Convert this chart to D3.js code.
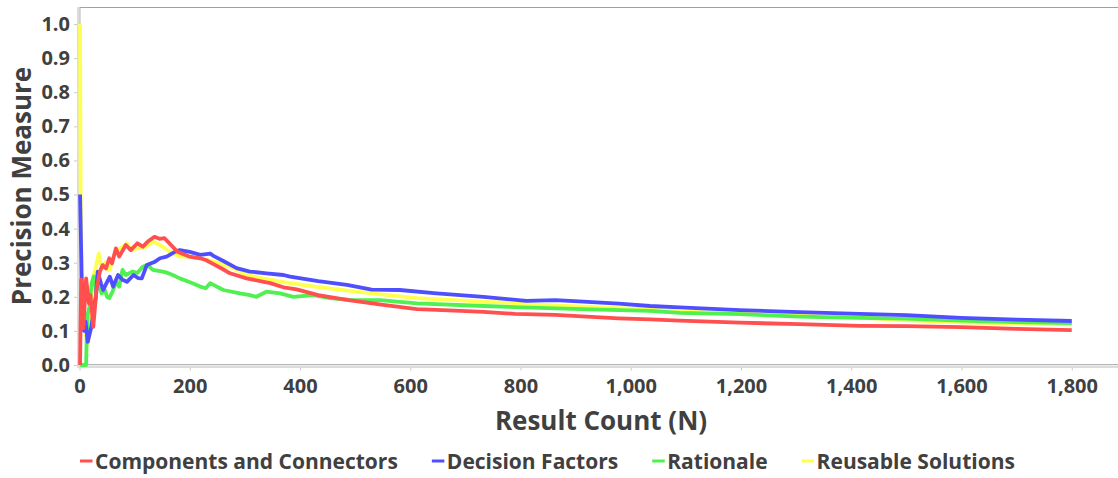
<!DOCTYPE html>
<html><head><meta charset="utf-8">
<script src="https://cdn.jsdelivr.net/npm/d3@7"></script>
<style>
html,body{margin:0;padding:0;background:#fff;}
svg{display:block;}
text{font-family:"Open Sans",sans-serif;font-weight:700;fill:#404040;}
</style></head>
<body>
<svg id="chart" width="1118" height="478"></svg>
<script>
// ---- data ----
const seriesNames = ["Components and Connectors","Decision Factors","Rationale","Reusable Solutions"];
const seriesColors = ["#ff4f4f","#4f4fff","#4ff04f","#ffff4f"];
const xTicks = [0,200,400,600,800,1000,1200,1400,1600,1800];
const yTicks = [0,0.1,0.2,0.3,0.4,0.5,0.6,0.7,0.8,0.9,1.0];

const componentsConnectors = [[1,0],[3,0.25],[7,0.108],[12,0.254],[17,0.181],[20,0.205],[25,0.112],[31,0.225],[37,0.274],[42,0.293],[48,0.283],[54,0.313],[59,0.298],[66,0.342],[72,0.318],[84,0.352],[93,0.337],[105,0.357],[115,0.347],[124,0.362],[136,0.376],[145,0.370],[154,0.372],[166,0.352],[178,0.332],[199,0.318],[219,0.313],[229,0.308],[243,0.296],[258,0.283],[273,0.269],[303,0.254],[346,0.240],[370,0.228],[394,0.222],[433,0.205],[488,0.190],[551,0.176],[612,0.164],[670,0.160],[733,0.156],[790,0.150],[863,0.147],[978,0.137],[1035,0.134],[1089,0.130],[1198,0.124],[1306,0.120],[1415,0.115],[1500,0.114],[1599,0.111],[1700,0.106],[1800,0.102]];

const decisionFactors = [[1,0.5],[4,0.25],[8,0.10],[11,0.127],[15,0.068],[21,0.108],[30,0.205],[33,0.274],[39,0.239],[43,0.220],[49,0.24],[55,0.259],[61,0.230],[70,0.264],[78,0.25],[86,0.244],[98,0.264],[106,0.255],[113,0.254],[122,0.293],[137,0.303],[146,0.313],[158,0.318],[173,0.332],[182,0.337],[200,0.332],[219,0.323],[237,0.327],[243,0.320],[261,0.305],[285,0.284],[309,0.274],[339,0.269],[370,0.264],[382,0.259],[433,0.246],[485,0.235],[530,0.221],[581,0.220],[648,0.210],[733,0.200],[811,0.188],[863,0.190],[914,0.186],[978,0.180],[1035,0.173],[1089,0.169],[1198,0.161],[1306,0.155],[1415,0.150],[1500,0.146],[1599,0.138],[1700,0.133],[1800,0.129]];

const rationale = [[1,0],[12,0],[13,0.08],[15,0.15],[18,0.17],[22,0.24],[26,0.26],[30,0.22],[35,0.24],[40,0.21],[46,0.22],[50,0.20],[54,0.196],[60,0.215],[66,0.244],[72,0.23],[78,0.279],[84,0.264],[96,0.274],[105,0.27],[115,0.289],[124,0.293],[133,0.279],[151,0.274],[160,0.27],[169,0.264],[182,0.254],[205,0.240],[219,0.230],[229,0.225],[237,0.240],[261,0.220],[291,0.210],[309,0.205],[321,0.200],[339,0.215],[364,0.210],[388,0.200],[424,0.205],[454,0.196],[491,0.191],[545,0.190],[612,0.181],[733,0.173],[863,0.166],[980,0.161],[1035,0.159],[1089,0.153],[1198,0.149],[1306,0.142],[1415,0.138],[1500,0.136],[1599,0.130],[1700,0.126],[1800,0.123]];

const reusableSolutions = [[1,1.0],[2,0.5],[4,0.25],[8,0.12],[12,0.09],[15,0.06],[18,0.10],[22,0.20],[25,0.26],[30,0.29],[35,0.327],[38,0.30],[42,0.284],[46,0.30],[51,0.279],[55,0.28],[62,0.32],[68,0.337],[77,0.345],[86,0.357],[94,0.337],[105,0.342],[118,0.345],[133,0.362],[146,0.352],[164,0.332],[182,0.318],[206,0.318],[219,0.313],[243,0.303],[255,0.298],[279,0.284],[303,0.264],[367,0.244],[427,0.230],[488,0.218],[548,0.207],[612,0.196],[733,0.186],[863,0.175],[978,0.167],[1035,0.163],[1089,0.157],[1198,0.151],[1306,0.145],[1415,0.139],[1500,0.132],[1599,0.125],[1700,0.122],[1800,0.119]];

const seriesData = [componentsConnectors, decisionFactors, rationale, reusableSolutions];

// ---- layout ----
const svg = d3.select("#chart");
const plotLeft = 79.5, plotTop = 7, plotRight = 1118, plotBottom = 365;
const x = d3.scaleLinear().domain([0, 1800]).range([plotLeft, 1071.75]);
const y = d3.scaleLinear().domain([0, 1.05]).range([plotBottom, plotTop]);

// top border
svg.append("line").attr("x1", 80).attr("x2", plotRight).attr("y1", 7.5).attr("y2", 7.5)
  .attr("stroke", "#a0a0a0").attr("stroke-width", 1);

// y axis
const yAxis = d3.axisLeft(y).tickValues(yTicks).tickFormat(d3.format(".1f")).tickSize(3).tickPadding(4);
const gy = svg.append("g").attr("transform", "translate(77,0)").call(yAxis);
gy.select(".domain").remove();
gy.selectAll(".tick line").attr("stroke", "#c8c8c8");
gy.selectAll(".tick text").style("font-size", "20px").style("fill", "#404040").attr("font-family", null);

// x axis
const xAxis = d3.axisBottom(x).tickValues(xTicks).tickFormat(d3.format(",")).tickSize(3).tickPadding(8);
const gx = svg.append("g").attr("transform", "translate(0,367.5)").call(xAxis);
gx.select(".domain").remove();
gx.selectAll(".tick line").attr("stroke", "#c8c8c8");
gx.selectAll(".tick text").style("font-size", "20px").style("fill", "#404040").attr("font-family", null);

// axis lines (light bands)
svg.append("rect").attr("x", 77).attr("y", 7).attr("width", 2.5).attr("height", 361).attr("fill", "#dcdcdc");
svg.append("line").attr("x1", 80).attr("x2", 80).attr("y1", 7).attr("y2", 366).attr("stroke", "#b4b4b4").attr("stroke-width", 1);
svg.append("rect").attr("x", 77).attr("y", 365.5).attr("width", plotRight - 77).attr("height", 2.5).attr("fill", "#dcdcdc");
svg.append("line").attr("x1", 80).attr("x2", plotRight).attr("y1", 364.5).attr("y2", 364.5).attr("stroke", "#b4b4b4").attr("stroke-width", 1);

// series lines (drawn last legend entry first so red ends on top)
const line = d3.line().x(d => x(d[0])).y(d => y(d[1]));
const order = [3, 2, 1, 0];
const gLines = svg.append("g");
order.forEach(i => {
  gLines.append("path").datum(seriesData[i]).attr("d", line)
    .attr("fill", "none").attr("stroke", seriesColors[i]).attr("stroke-width", 3.8)
    .attr("stroke-linejoin", "round").attr("stroke-linecap", "butt");
});

// axis titles
svg.append("text").attr("x", 601).attr("y", 430).attr("text-anchor", "middle")
  .style("font-size", "26px").text("Result Count (N)");
svg.append("text").attr("transform", "translate(31,186) rotate(-90)").attr("text-anchor", "middle")
  .style("font-size", "26px").text("Precision Measure");

// legend
const legend = svg.append("g");
let lx = 80;
seriesNames.forEach((name, i) => {
  legend.append("line").attr("x1", lx).attr("x2", lx + 12.5).attr("y1", 461).attr("y2", 461)
    .attr("stroke", seriesColors[i]).attr("stroke-width", 3);
  const t = legend.append("text").attr("x", lx + 15).attr("y", 468.5)
    .style("font-size", "21px").text(name);
  lx += 15 + t.node().getComputedTextLength() + 34;
});
</script>
</body></html>
